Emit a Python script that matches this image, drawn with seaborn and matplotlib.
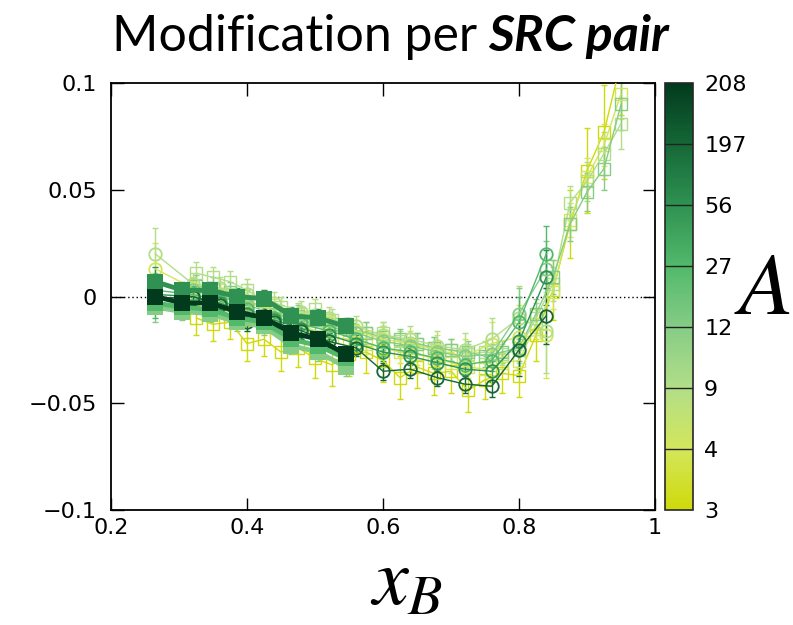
import numpy as np
import pandas as pd
import matplotlib
matplotlib.use('Agg')
import matplotlib.pyplot as plt
import seaborn as sns
from matplotlib.colors import LinearSegmentedColormap, Normalize
from matplotlib.cm import ScalarMappable

# colour scale: one step per nucleus
a_labels = ['3', '4', '9', '12', '27', '56', '197', '208']
scale_colors = ['#cfda0a', '#d3e65c', '#b2de88', '#86cc86', '#52b96a', '#2f9252', '#156837', '#023a1e']

x_tick_vals = [0.2, 0.4, 0.6, 0.8, 1.0]
x_tick_labels = ['0.2', '0.4', '0.6', '0.8', '1']
y_tick_vals = [-0.1, -0.05, 0, 0.05, 0.1]
y_tick_labels = ['\u22120.1', '\u22120.05', '0', '0.05', '0.1']

# open squares, thin lines
x_hallc = [0.325, 0.35, 0.375, 0.40, 0.425, 0.45, 0.475, 0.50, 0.525, 0.55, 0.575, 0.60, 0.625,
           0.65, 0.675, 0.70, 0.725, 0.75, 0.775, 0.80, 0.825, 0.85, 0.875, 0.90, 0.925, 0.95]
hallc_3 = [-0.010, -0.013, -0.012, -0.022, -0.020, -0.026, -0.024, -0.029, -0.032, -0.027, -0.026, -0.030, -0.038,
           -0.033, -0.036, -0.035, -0.044, -0.039, -0.036, -0.037, -0.018, 0.003, 0.034, 0.059, 0.077, 0.110]
hallc_4 = [0.001, -0.002, -0.004, -0.007, -0.009, -0.012, -0.013, -0.016, -0.019, -0.020, -0.022, -0.024, -0.026,
           -0.027, -0.029, -0.031, -0.033, -0.034, -0.031, -0.030, -0.013, 0.002, 0.036, 0.056, 0.071, 0.095]
hallc_9 = [0.011, 0.009, 0.007, 0.003, -0.002, -0.005, -0.008, -0.006, -0.011, -0.015, -0.017, -0.017, -0.021,
           -0.022, -0.024, -0.025, -0.027, -0.026, -0.027, -0.025, -0.010, 0.006, 0.044, 0.054, 0.067, 0.081]
hallc_12 = [0.005, 0.004, 0.002, -0.002, -0.005, -0.009, -0.009, -0.011, -0.013, -0.015, -0.017, -0.019, -0.020,
            -0.022, -0.024, -0.025, -0.026, -0.028, -0.026, -0.024, -0.008, 0.009, 0.034, 0.049, 0.060, 0.090]
err_hallc_3 = [0.008, 0.008, 0.008, 0.008, 0.008, 0.009, 0.009, 0.009, 0.010, 0.010, 0.010, 0.010, 0.010,
               0.010, 0.010, 0.010, 0.010, 0.009, 0.009, 0.010, 0.012, 0.014, 0.016, 0.020, 0.022, 0.025]
err_hallc = [0.005, 0.005, 0.005, 0.005, 0.005, 0.005, 0.005, 0.005, 0.005, 0.005, 0.005, 0.005, 0.005,
             0.005, 0.005, 0.005, 0.005, 0.005, 0.005, 0.006, 0.007, 0.008, 0.008, 0.009, 0.010, 0.012]

# open circles, thin lines
x_slac = [0.265, 0.32, 0.36, 0.40, 0.44, 0.48, 0.52, 0.56, 0.60, 0.64, 0.68, 0.72, 0.76, 0.80, 0.84]
slac_4 = [0.013, 0.004, 0.001, -0.003, -0.006, -0.010, -0.012, -0.016, -0.020, -0.022, -0.025, -0.028, -0.022, -0.019, -0.018]
slac_9 = [0.020, 0.006, 0.004, 0.001, -0.003, -0.007, -0.010, -0.014, -0.018, -0.020, -0.023, -0.025, -0.020, -0.010, -0.016]
slac_12 = [0.006, 0.003, 0.000, -0.004, -0.008, -0.011, -0.014, -0.017, -0.021, -0.023, -0.026, -0.028, -0.027, -0.008, 0.013]
slac_27 = [0.003, 0.001, -0.002, -0.006, -0.010, -0.013, -0.016, -0.020, -0.024, -0.026, -0.029, -0.032, -0.030, -0.012, 0.020]
slac_56 = [0.001, 0.000, -0.003, -0.008, -0.011, -0.015, -0.018, -0.022, -0.026, -0.028, -0.031, -0.034, -0.035, -0.021, 0.009]
slac_197 = [-0.001, 0.000, -0.004, -0.012, -0.012, -0.016, -0.021, -0.024, -0.035, -0.034, -0.038, -0.041, -0.042, -0.025, -0.009]
err_slac = [0.005, 0.004, 0.004, 0.004, 0.004, 0.004, 0.004, 0.004, 0.004, 0.004, 0.004, 0.004, 0.005, 0.012, 0.013]
err_slac_light = [0.012, 0.005, 0.005, 0.005, 0.005, 0.005, 0.005, 0.005, 0.006, 0.006, 0.007, 0.008, 0.010, 0.015, 0.020]

# filled squares, thick lines
x_clas = [0.265, 0.305, 0.345, 0.385, 0.425, 0.465, 0.505, 0.545]
clas_12 = [-0.005, -0.007, -0.008, -0.012, -0.014, -0.023, -0.026, -0.033]
clas_27 = [-0.003, -0.005, -0.006, -0.010, -0.012, -0.020, -0.023, -0.029]
clas_56 = [0.007, 0.003, 0.003, 0.000, -0.001, -0.009, -0.010, -0.014]
clas_208 = [0.000, -0.003, -0.003, -0.007, -0.010, -0.017, -0.020, -0.027]
err_clas = [0.007, 0.004, 0.004, 0.004, 0.004, 0.004, 0.004, 0.004]

sns.set_style('ticks')
plt.rcParams['font.family'] = ['DejaVu Sans']
plt.rcParams['mathtext.fontset'] = 'stix'
plt.rcParams['text.color'] = 'black'
plt.rcParams['xtick.color'] = 'black'
plt.rcParams['ytick.color'] = 'black'

cmap = LinearSegmentedColormap.from_list('a_scale', scale_colors)
norm = Normalize(0, 7)

fig = plt.figure(figsize=(7.93, 6.25), dpi=100)
ax = fig.add_axes([0.140, 0.184, 0.686, 0.683])
cax = fig.add_axes([0.8386, 0.184, 0.0353, 0.683])

open_sq = dict(marker='s', markersize=8, markerfacecolor='none', lw=1, markeredgewidth=1)
open_ci = dict(marker='o', markersize=9, markerfacecolor='none', lw=1, markeredgewidth=1.3)
full_sq = dict(marker='s', markersize=12, lw=3.5, markeredgewidth=0)

series = [
    (x_hallc, hallc_3, err_hallc_3, 0, open_sq),
    (x_hallc, hallc_4, err_hallc, 1, open_sq),
    (x_hallc, hallc_9, err_hallc, 2, open_sq),
    (x_hallc, hallc_12, err_hallc, 3, open_sq),
    (x_slac, slac_4, err_slac_light, 1, open_ci),
    (x_slac, slac_9, err_slac_light, 2, open_ci),
    (x_slac, slac_12, err_slac, 3, open_ci),
    (x_slac, slac_27, err_slac, 4, open_ci),
    (x_slac, slac_56, err_slac, 5, open_ci),
    (x_slac, slac_197, err_slac, 6, open_ci),
    (x_clas, clas_12, err_clas, 3, full_sq),
    (x_clas, clas_27, err_clas, 4, full_sq),
    (x_clas, clas_56, err_clas, 5, full_sq),
    (x_clas, clas_208, err_clas, 7, full_sq),
]

ax.axhline(0, color='black', lw=1, ls=(0, (1, 2)), zorder=1)

for x, y, err, idx, style in series:
    c = cmap(norm(idx))
    df = pd.DataFrame({'x': x, 'y': y})
    ax.errorbar(x, y, yerr=err, fmt='none', ecolor=c, elinewidth=1, capsize=2, capthick=1, zorder=2)
    kw = dict(style)
    kw.setdefault('markerfacecolor', c)
    sns.lineplot(data=df, x='x', y='y', ax=ax, color=c, markeredgecolor=c,
                 sort=False, estimator=None, errorbar=None, zorder=3, **kw)

ax.set_xlim(0.2, 1.0)
ax.set_ylim(-0.1, 0.1)
ax.set_xticks(x_tick_vals)
ax.set_xticklabels(x_tick_labels)
ax.set_yticks(y_tick_vals)
ax.set_yticklabels(y_tick_labels)
ax.set_xlabel('')
ax.set_ylabel('')
ax.tick_params(direction='in', length=9, width=1, top=True, right=True, labelsize=16, colors='black')
ax.tick_params(axis='y', pad=10)
ax.tick_params(axis='x', pad=6)
for s in ax.spines.values():
    s.set_visible(True)
    s.set_linewidth(1.3)
    s.set_color('black')

sm = ScalarMappable(norm=norm, cmap=cmap)
cb = fig.colorbar(sm, cax=cax, ticks=range(8))
cb.set_ticklabels(a_labels)
cb.ax.tick_params(length=0, labelsize=16, pad=8)
cb.outline.set_linewidth(1.2)
for k in range(1, 7):
    cax.axhline(k, color='#222222', lw=1)

fig.text(0.961, 0.536, r'$A$', fontsize=64, ha='center', va='center')
fig.text(0.513, 0.068, r'$x_B$', fontsize=58, ha='center', va='center')

# title: regular part + bold italic part, centred together
renderer = fig.canvas.get_renderer()
t1 = fig.text(0, 0.918, 'Modification per', fontsize=36, family='Lato', va='baseline', color='black')
t2 = fig.text(0, 0.918, 'SRC pair', fontsize=36, family='Lato', weight='bold', style='italic',
              va='baseline', color='black')
w1 = t1.get_window_extent(renderer).width
w2 = t2.get_window_extent(renderer).width
gap = 11
start = 390 - (w1 + gap + w2) / 2
t1.set_x(start / 793)
t2.set_x((start + w1 + gap) / 793)

fig.savefig('out.png', dpi=100)
